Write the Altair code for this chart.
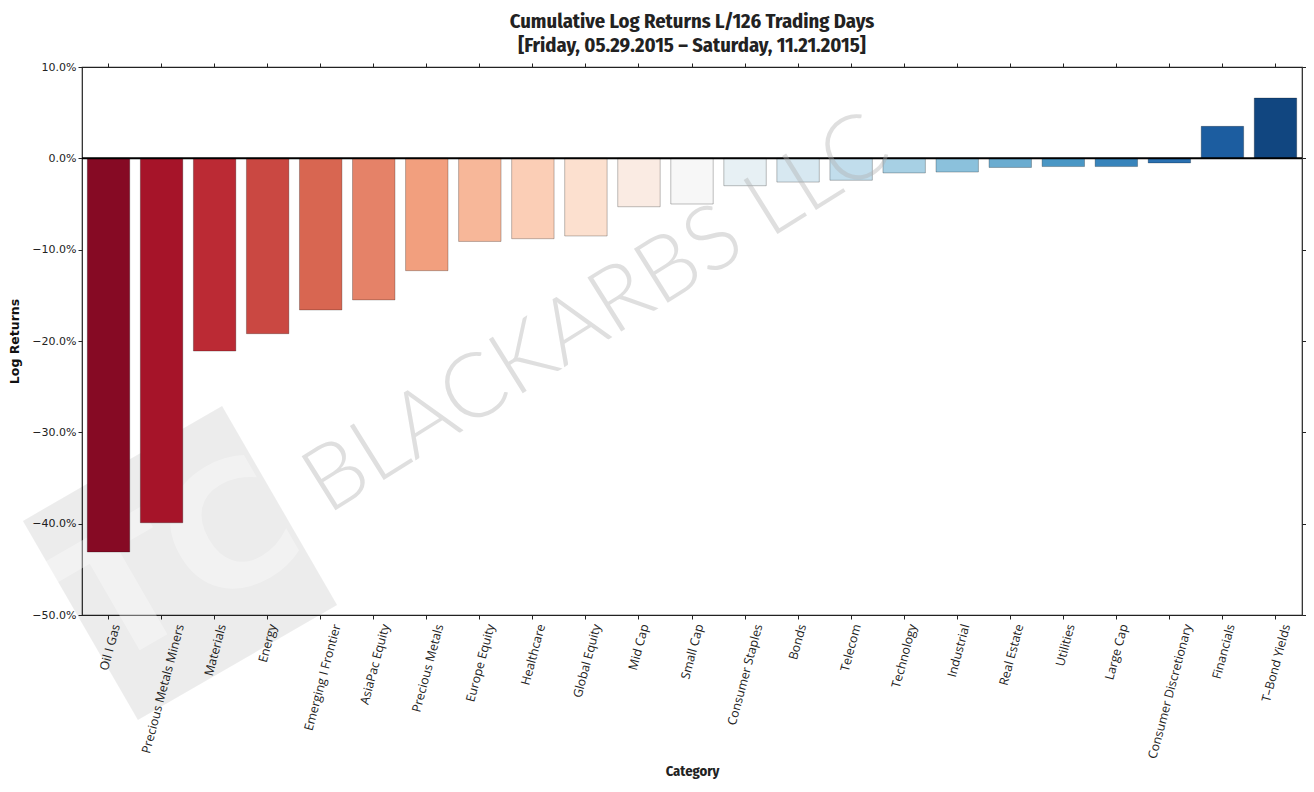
import altair as alt
import pandas as pd

categories = ["Oil I Gas", "Precious Metals Miners", "Materials", "Energy",
              "Emerging I Frontier", "AsiaPac Equity", "Precious Metals",
              "Europe Equity", "Healthcare", "Global Equity", "Mid Cap",
              "Small Cap", "Consumer Staples", "Bonds", "Telecom", "Technology",
              "Industrial", "Real Estate", "Utilities", "Large Cap",
              "Consumer Discretionary", "Financials", "T\u2013Bond Yields"]
log_returns = [-0.431, -0.399, -0.211, -0.192, -0.166, -0.155, -0.123,
               -0.091, -0.088, -0.085, -0.053, -0.050, -0.030, -0.026,
               -0.024, -0.016, -0.015, -0.010, -0.009, -0.009, -0.005,
               0.035, 0.066]
y_ticks = [0.10, 0.0, -0.10, -0.20, -0.30, -0.40, -0.50]

# RdBu (ColorBrewer) anchors, sampled like seaborn's color_palette("RdBu", n)
anchors = ["#67001f", "#b2182b", "#d6604d", "#f4a582", "#fddbc7", "#f7f7f7",
           "#d1e5f0", "#92c5de", "#4393c3", "#2166ac", "#053061"]

def hex2rgb(h):
    return [int(h[i:i + 2], 16) for i in (1, 3, 5)]

def sample(t):
    pos = t * (len(anchors) - 1)
    i = min(int(pos), len(anchors) - 2)
    f = pos - i
    a, b = hex2rgb(anchors[i]), hex2rgb(anchors[i + 1])
    return "#" + "".join("%02x" % round(a[k] + (b[k] - a[k]) * f) for k in range(3))

n = len(categories)
colors = [sample((i + 1) / (n + 1)) for i in range(n)]

df = pd.DataFrame({"Category": categories, "Value": log_returns})

W, H = 1220, 548
COND = "'Fira Sans Condensed', 'Roboto Condensed', 'Liberation Sans Narrow', 'DejaVu Sans Condensed', 'Roboto', sans-serif"

xscale = alt.Scale(domain=categories, paddingInner=0.2, paddingOuter=0.1)
yscale = alt.Scale(domain=[-0.5, 0.1], nice=False, zero=False)

base = alt.Chart(df)

# watermark logo (behind bars)
logo = base.mark_point(shape="square", filled=True, size=52900, angle=60,
                       color="black", opacity=0.075, clip=False).encode(
    x=alt.value(98), y=alt.value(496)).transform_filter(alt.datum.Category == categories[0])
logo_txt = base.mark_text(text="TC", font="DejaVu Sans", fontWeight="bold",
                          fontSize=170, angle=330, color="white", opacity=0.35,
                          align="center", baseline="middle").encode(
    x=alt.value(100), y=alt.value(500)).transform_filter(alt.datum.Category == categories[0])

bars = base.mark_bar(stroke="black", strokeOpacity=0.25, strokeWidth=1).encode(
    x=alt.X("Category:N", sort=None, scale=xscale,
            axis=alt.Axis(title="Category", orient="bottom", labelAngle=285,
                          labelFont="Open Sans", labelFontSize=12.3,
                          labelColor="#222", labelPadding=5,
                          labelOffset=alt.ExprRef("length(datum.label) * 0.85"),
                          tickSize=4, tickColor="#222", domain=False,
                          titleFont=COND, titleFontSize=14.5, titleFontWeight="bold",
                          titleColor="#222", titlePadding=5)),
    y=alt.Y("Value:Q", scale=yscale,
            axis=alt.Axis(title="Log Returns", orient="left", values=y_ticks,
                          format=".1%", labelFont="DejaVu Sans", labelFontSize=11,
                          labelColor="#222", tickSize=4, tickColor="#222",
                          domain=False, grid=False,
                          titleFont="DejaVu Sans", titleFontSize=12.5,
                          titleFontWeight="bold", titleColor="#111",
                          titlePadding=10)),
    color=alt.Color("Category:N", sort=None,
                    scale=alt.Scale(domain=categories, range=colors), legend=None),
)

# mirrored ticks on top and right
mirror = base.mark_bar(opacity=0).encode(
    x=alt.X("Category:N", sort=None, scale=xscale,
            axis=alt.Axis(title=None, orient="top", labels=False, tickSize=4,
                          tickColor="#222", domain=False)),
    y=alt.Y("Value:Q", scale=yscale,
            axis=alt.Axis(title=None, orient="right", labels=False, values=y_ticks,
                          tickSize=4, tickColor="#222", domain=False, grid=False)),
)

zero = alt.Chart(pd.DataFrame({"z": [0.0]})).mark_rule(color="black", strokeWidth=2).encode(
    y=alt.Y("z:Q", scale=yscale, axis=None))

wm = base.mark_text(text="BLACKARBS LLC", font="Lato", fontWeight=300, fontSize=90,
                    angle=328, color="#b0b0b0", opacity=0.4, align="center",
                    baseline="middle").encode(
    x=alt.value(515), y=alt.value(248)).transform_filter(alt.datum.Category == categories[0])

chart = alt.layer(logo, logo_txt, bars, mirror, zero, wm).resolve_axis(
    x="independent", y="independent").properties(
    width=W, height=H,
    title=alt.TitleParams(
        text=["Cumulative Log Returns L/126 Trading Days",
              "[Friday, 05.29.2015 \u2013 Saturday, 11.21.2015]"],
        font=COND, fontSize=20.5, fontWeight="bold", color="#222",
        lineHeight=24, offset=5, anchor="middle"),
    autosize=alt.AutoSizeParams(type="none"),
    padding={"left": 74, "top": 59, "right": 4, "bottom": 169},
).configure_view(stroke="#222", strokeWidth=1.2)

chart.save("out.html", embed_options={"renderer": "svg", "actions": False})
